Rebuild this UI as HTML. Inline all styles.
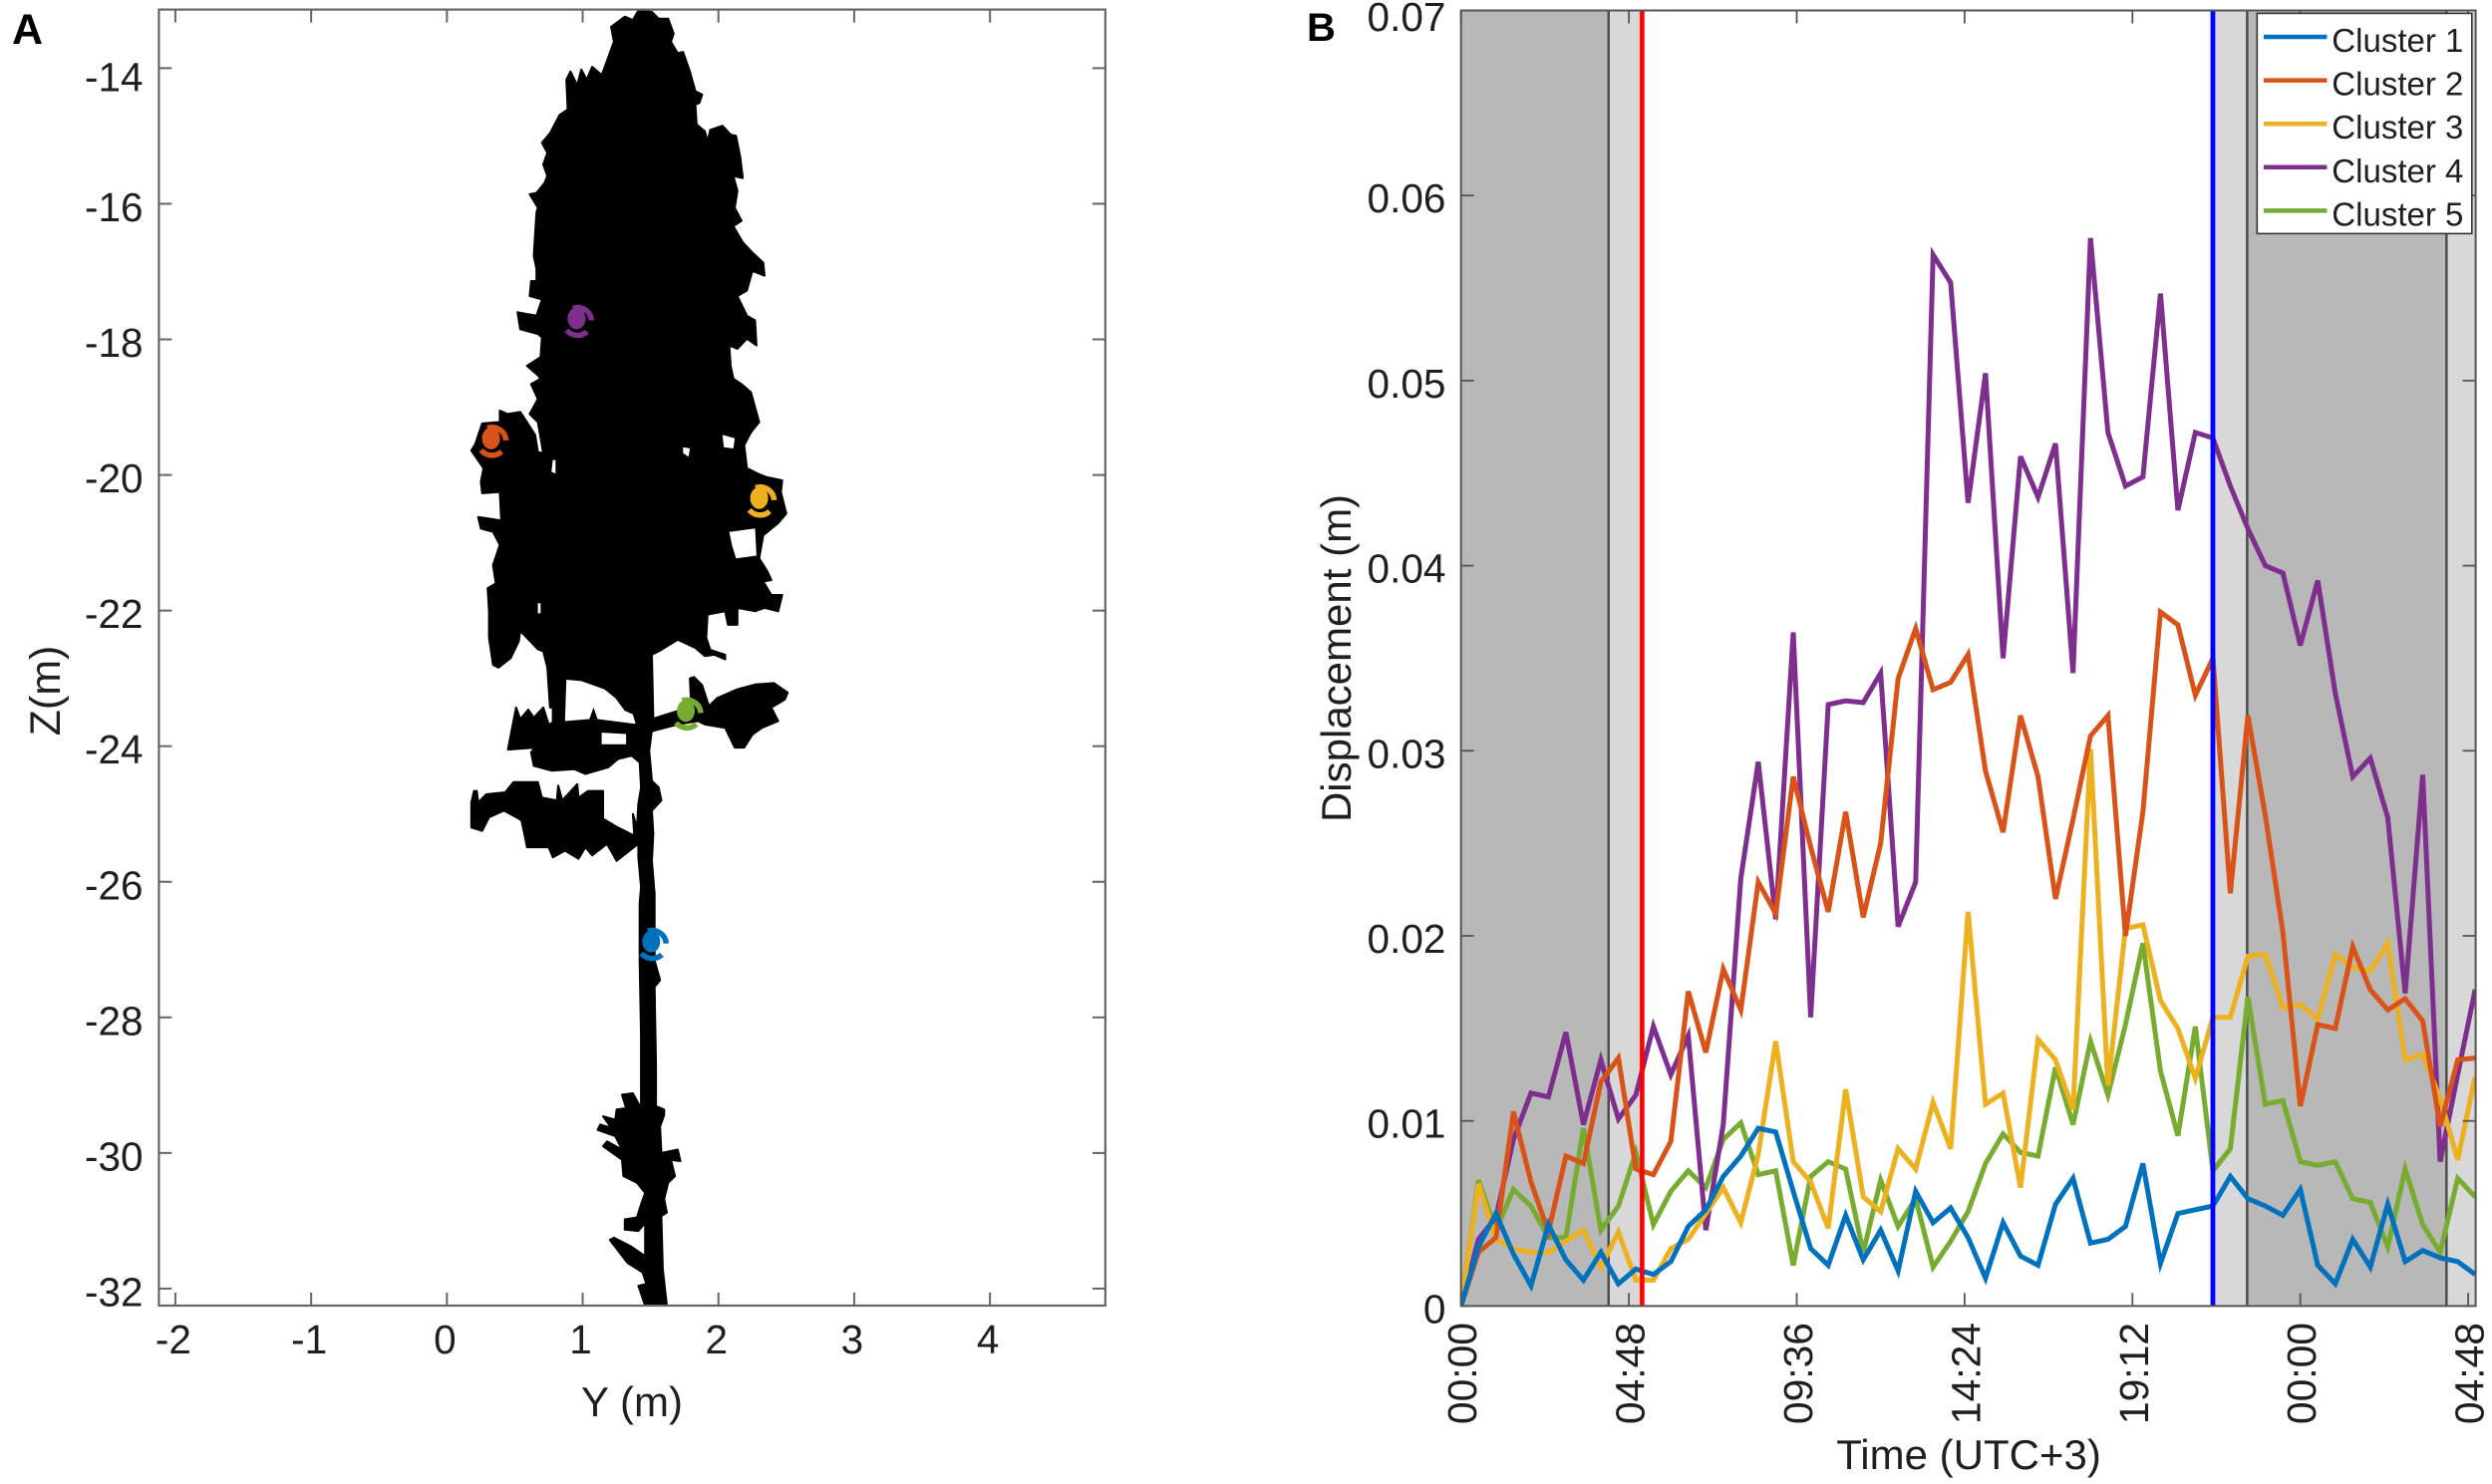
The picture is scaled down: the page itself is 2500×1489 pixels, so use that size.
<!DOCTYPE html>
<html>
<head>
<meta charset="utf-8">
<title>Tree point cloud and cluster displacement</title>
<style>
html,body{margin:0;padding:0;background:#fff;}
svg{display:block;}
text{font-family:"Liberation Sans",sans-serif;fill:#1f1f1f;}
</style>
</head>
<body>
<svg id="figure" xmlns="http://www.w3.org/2000/svg" width="2500" height="1489" viewBox="0 0 2500 1489">
  <defs>
    <clipPath id="clip-a"><rect x="159.4" y="9.6" width="949.5" height="1300.4"/></clipPath>
    <clipPath id="clip-b"><rect x="1465.7" y="10.5" width="1017.9" height="1299.9"/></clipPath>
  </defs>
  <text x="12" y="44" font-size="43" font-weight="bold" style="fill:#000">A</text>
  <text x="1311" y="41" font-size="40" font-weight="bold" style="fill:#000">B</text>
  <g id="panel-a"></g>
  <g id="panel-b"></g>
  <text x="634" y="1421" font-size="42" text-anchor="middle">Y (m)</text>
  <text transform="translate(60,693) rotate(-90)" font-size="43" text-anchor="middle">Z(m)</text>
  <text x="1975" y="1474" font-size="42" text-anchor="middle">Time (UTC+3)</text>
  <text transform="translate(1355,660.5) rotate(-90)" font-size="42" text-anchor="middle">Displacement (m)</text>
</svg>
<script>
/* ---------- Panel B data ---------- */
const timeHours = [0,0.5,1,1.5,2,2.5,3,3.5,4,4.5,5,5.5,6,6.5,7,7.5,8,8.5,9,9.5,10,10.5,11,11.5,12,12.5,13,13.5,14,14.5,15,15.5,16,16.5,17,17.5,18,18.5,19,19.5,20,20.5,21,21.5,22,22.5,23,23.5,24,24.5,25,25.5,26,26.5,27,27.5,28,28.5,29];
const cluster1 = [0,.0032,.0050,.0028,.0011,.0044,.0025,.0014,.0029,.0012,.0020,.0017,.0024,.0043,.0052,.0070,.0081,.0096,.0094,.0062,.0031,.0022,.0049,.0025,.0041,.0019,.0062,.0045,.0053,.0037,.0015,.0045,.0027,.0022,.0055,.0069,.0034,.0036,.0043,.0077,.0023,.0050,.0052,.0054,.0070,.0058,.0054,.0049,.0063,.0022,.0012,.0036,.0021,.0055,.0024,.0030,.0026,.0024,.0017];
const cluster2 = [0,.0029,.0037,.0105,.0067,.0040,.0081,.0077,.0121,.0134,.0074,.0071,.0089,.0170,.0137,.0182,.0160,.0229,.0212,.0286,.0248,.0213,.0267,.0210,.0250,.0339,.0366,.0333,.0337,.0352,.0289,.0256,.0319,.0286,.0220,.0263,.0308,.0319,.0200,.0267,.0375,.0368,.0330,.0350,.0223,.0319,.0265,.0202,.0108,.0152,.0150,.0194,.0171,.0160,.0166,.0154,.0097,.0133,.0134];
const cluster3 = [0,.0066,.0036,.0031,.0029,.0029,.0035,.0041,.0021,.0040,.0014,.0014,.0031,.0036,.0050,.0064,.0045,.0082,.0143,.0078,.0067,.0042,.0117,.0059,.0051,.0085,.0074,.0110,.0085,.0213,.0109,.0115,.0064,.0144,.0133,.0106,.0301,.0119,.0204,.0206,.0165,.0150,.0123,.0156,.0156,.0189,.0190,.0161,.0163,.0155,.0190,.0183,.0181,.0196,.0133,.0136,.0112,.0079,.0124];
const cluster4 = [0,.0036,.0048,.0090,.0115,.0113,.0148,.0098,.0133,.0101,.0114,.0151,.0125,.0146,.0041,.0098,.0231,.0294,.0209,.0364,.0156,.0325,.0327,.0326,.0342,.0205,.0229,.0568,.0553,.0434,.0504,.0350,.0459,.0437,.0466,.0342,.0577,.0472,.0443,.0448,.0547,.0430,.0472,.0469,.0443,.0420,.0400,.0396,.0357,.0392,.0331,.0286,.0296,.0264,.0169,.0287,.0078,.0125,.0171];
const cluster5 = [0,.0068,.0041,.0063,.0054,.0037,.0037,.0096,.0041,.0054,.0083,.0044,.0062,.0073,.0064,.0090,.0099,.0071,.0073,.0022,.0070,.0078,.0074,.0029,.0068,.0043,.0058,.0021,.0035,.0051,.0077,.0093,.0083,.0081,.0129,.0098,.0143,.0114,.0152,.0196,.0127,.0092,.0151,.0073,.0085,.0167,.0109,.0111,.0078,.0076,.0078,.0058,.0056,.0032,.0074,.0044,.0029,.0069,.0059];
const clusterNames = ["Cluster 1","Cluster 2","Cluster 3","Cluster 4","Cluster 5"];
const clusterColors = ["#0072BD","#D95319","#EDB120","#7E2F8E","#77AC30"];
const clusterValues = [cluster1,cluster2,cluster3,cluster4,cluster5];
const dispTicks = [0,0.01,0.02,0.03,0.04,0.05,0.06,0.07];
const dispTickLabels = ["0","0.01","0.02","0.03","0.04","0.05","0.06","0.07"];
const timeTicks = [0,4.8,9.6,14.4,19.2,24,28.8];
const timeTickLabels = ["00:00","04:48","09:36","14:24","19:12","00:00","04:48"];
const darkBandStart = [0,22.48];
const darkBandEnd = [4.22,28.18];
const lightBandStart = [4.22,21.5,28.18];
const lightBandEnd = [5.18,22.48,29.02];
const dayBoundaries = [4.22,22.48,28.18];
const startEventHour = 5.18;
const endEventHour = 21.5;

/* ---------- Panel A data (metres) ---------- */
const yTicksA = [-2,-1,0,1,2,3,4];
const zTicksA = [-14,-16,-18,-20,-22,-24,-26,-28,-30,-32];
const markerY = [1.505,0.325,2.30,0.955,1.76];
const markerZ = [-26.91,-19.49,-20.37,-17.72,-23.51];
const treeOutline = [[1.41,-13.15],[1.51,-13.17],[1.56,-13.27],[1.63,-13.27],[1.67,-13.49],[1.65,-13.61],[1.70,-13.78],[1.74,-13.76],[1.79,-14.05],[1.83,-14.34],[1.88,-14.39],[1.86,-14.51],[1.83,-14.54],[1.84,-14.83],[1.90,-14.93],[1.92,-15.08],[1.94,-14.91],[2.03,-14.85],[2.09,-14.98],[2.13,-15.00],[2.16,-15.30],[2.18,-15.62],[2.11,-15.59],[2.14,-15.81],[2.12,-16.06],[2.17,-16.25],[2.11,-16.33],[2.18,-16.57],[2.25,-16.72],[2.33,-16.87],[2.34,-17.06],[2.25,-16.99],[2.21,-17.28],[2.14,-17.36],[2.21,-17.65],[2.27,-17.72],[2.28,-18.09],[2.21,-17.99],[2.14,-18.14],[2.08,-18.09],[2.09,-18.39],[2.11,-18.58],[2.17,-18.66],[2.24,-18.78],[2.30,-19.22],[2.24,-19.37],[2.19,-19.56],[2.21,-19.90],[2.29,-19.98],[2.35,-20.03],[2.47,-20.08],[2.46,-20.25],[2.50,-20.57],[2.44,-20.71],[2.33,-20.89],[2.30,-21.23],[2.36,-21.42],[2.39,-21.55],[2.33,-21.57],[2.39,-21.77],[2.47,-21.77],[2.44,-22.01],[2.34,-21.96],[2.27,-22.01],[2.14,-21.96],[2.14,-22.21],[2.07,-22.21],[2.05,-22.01],[1.92,-22.06],[1.91,-22.40],[1.94,-22.58],[2.05,-22.65],[2.05,-22.72],[1.97,-22.65],[1.90,-22.67],[1.83,-22.55],[1.70,-22.43],[1.56,-22.60],[1.51,-22.65],[1.52,-23.60],[1.49,-24.07],[1.51,-24.51],[1.56,-24.61],[1.58,-24.80],[1.51,-24.95],[1.52,-25.29],[1.51,-25.69],[1.53,-26.18],[1.53,-27.16],[1.57,-27.45],[1.53,-27.55],[1.54,-28.72],[1.54,-29.31],[1.60,-29.36],[1.60,-29.44],[1.57,-29.61],[1.58,-30.00],[1.70,-29.95],[1.72,-30.12],[1.65,-30.10],[1.68,-30.34],[1.63,-30.44],[1.60,-30.68],[1.62,-30.88],[1.58,-30.93],[1.59,-31.71],[1.62,-32.25],[1.60,-32.40],[1.46,-32.40],[1.46,-32.25],[1.41,-31.96],[1.47,-31.93],[1.44,-31.76],[1.33,-31.62],[1.20,-31.28],[1.23,-31.25],[1.35,-31.37],[1.46,-31.52],[1.46,-31.03],[1.41,-31.15],[1.31,-31.13],[1.31,-30.98],[1.40,-30.95],[1.43,-30.76],[1.46,-30.59],[1.40,-30.44],[1.30,-30.34],[1.29,-30.10],[1.15,-29.90],[1.18,-29.83],[1.29,-29.95],[1.24,-29.75],[1.11,-29.66],[1.13,-29.58],[1.21,-29.63],[1.15,-29.46],[1.24,-29.51],[1.25,-29.36],[1.32,-29.34],[1.29,-29.14],[1.37,-29.12],[1.43,-29.34],[1.43,-28.28],[1.42,-27.16],[1.42,-26.32],[1.43,-26.08],[1.41,-25.64],[1.41,-25.44],[1.25,-25.69],[1.18,-25.44],[1.07,-25.61],[1.02,-25.49],[0.97,-25.66],[0.87,-25.54],[0.78,-25.64],[0.75,-25.49],[0.59,-25.49],[0.57,-25.29],[0.55,-25.10],[0.53,-25.07],[0.42,-24.95],[0.31,-25.05],[0.26,-25.25],[0.18,-25.20],[0.18,-24.83],[0.20,-24.66],[0.22,-24.66],[0.23,-24.83],[0.29,-24.71],[0.43,-24.68],[0.49,-24.53],[0.67,-24.53],[0.70,-24.76],[0.81,-24.80],[0.82,-24.58],[0.85,-24.80],[0.96,-24.56],[0.97,-24.76],[1.04,-24.66],[1.15,-24.66],[1.15,-25.07],[1.26,-25.20],[1.38,-25.32],[1.37,-25.00],[1.40,-25.20],[1.41,-24.85],[1.43,-24.61],[1.42,-24.24],[1.36,-24.14],[1.26,-24.19],[1.19,-24.31],[1.02,-24.41],[0.94,-24.34],[0.77,-24.36],[0.64,-24.29],[0.62,-24.09],[0.65,-24.02],[0.45,-24.05],[0.49,-23.63],[0.51,-23.43],[0.54,-23.60],[0.60,-23.46],[0.64,-23.58],[0.71,-23.43],[0.75,-23.68],[0.78,-23.65],[0.78,-23.43],[0.76,-23.43],[0.74,-22.84],[0.71,-22.60],[0.67,-22.57],[0.54,-22.30],[0.53,-22.45],[0.47,-22.70],[0.38,-22.84],[0.34,-22.80],[0.31,-22.40],[0.31,-22.01],[0.30,-21.67],[0.36,-21.60],[0.34,-21.33],[0.39,-21.03],[0.34,-20.84],[0.25,-20.79],[0.23,-20.62],[0.40,-20.67],[0.39,-20.25],[0.26,-20.27],[0.25,-20.10],[0.27,-19.90],[0.18,-19.64],[0.21,-19.54],[0.26,-19.24],[0.39,-19.22],[0.39,-19.05],[0.45,-19.10],[0.54,-19.07],[0.58,-19.19],[0.65,-19.41],[0.67,-19.66],[0.71,-19.68],[0.67,-19.22],[0.61,-19.10],[0.67,-18.88],[0.62,-18.66],[0.69,-18.58],[0.67,-18.53],[0.59,-18.39],[0.69,-18.26],[0.70,-17.97],[0.67,-17.92],[0.54,-17.85],[0.52,-17.60],[0.66,-17.65],[0.70,-17.41],[0.61,-17.36],[0.62,-17.14],[0.66,-17.14],[0.66,-16.96],[0.64,-16.77],[0.65,-16.43],[0.66,-16.13],[0.67,-16.06],[0.61,-15.86],[0.66,-15.84],[0.72,-15.69],[0.74,-15.59],[0.71,-15.42],[0.74,-15.25],[0.70,-15.10],[0.76,-14.96],[0.83,-14.69],[0.89,-14.61],[0.88,-14.17],[0.91,-14.05],[0.96,-14.25],[0.99,-14.02],[1.03,-14.17],[1.07,-13.98],[1.14,-14.10],[1.16,-14.00],[1.23,-13.61],[1.21,-13.39],[1.31,-13.24],[1.37,-13.29]];
const rightBranch = [[1.51,-23.60],[1.70,-23.48],[1.80,-23.43],[1.79,-23.00],[1.82,-22.98],[1.88,-23.10],[1.93,-23.41],[1.99,-23.29],[2.14,-23.16],[2.27,-23.09],[2.41,-23.07],[2.51,-23.21],[2.49,-23.31],[2.39,-23.43],[2.44,-23.63],[2.32,-23.73],[2.25,-23.83],[2.19,-24.02],[2.12,-24.02],[2.05,-23.73],[1.90,-23.68],[1.85,-23.63],[1.70,-23.68],[1.51,-23.78]];
const canopyGapA = [[0.87,-23.63],[0.88,-23.02],[0.99,-23.04],[1.16,-23.16],[1.24,-23.29],[1.31,-23.48],[1.37,-23.53],[1.39,-23.67],[1.11,-23.60],[1.08,-23.43],[1.05,-23.60]];
const canopyGapB = [[1.14,-23.80],[1.32,-23.82],[1.32,-23.97],[1.14,-23.97]];
const canopyGapC = [[2.08,-20.84],[2.27,-20.79],[2.28,-21.19],[2.13,-21.23],[2.10,-21.03]];
const canopyGapD = [[2.03,-19.41],[2.12,-19.46],[2.11,-19.61],[2.04,-19.59]];
const canopyGapE = [[1.74,-19.59],[1.79,-19.61],[1.78,-19.73],[1.74,-19.68]];
const canopyGapF = [[0.78,-19.78],[0.80,-19.78],[0.80,-19.98],[0.77,-19.95]];
const canopyGapG = [[0.67,-21.89],[0.69,-21.89],[0.69,-22.04],[0.67,-22.04]];

/* ---------- Scales ---------- */
const SVGNS = "http://www.w3.org/2000/svg";
const A = {l:159.4,r:1108.9,t:9.6,b:1310};
const B = {l:1465.7,r:2483.6,t:10.5,b:1310.4};
function xA(y){return 448.33+136.2*y;}
function yA(z){return 68.4+(-14-z)*68.03;}
function xB(h){return B.l+h*35.083;}
function yB(v){return B.b-v*18570;}
function mk(tag,parent){const e=document.createElementNS(SVGNS,tag);parent.appendChild(e);return e;}
function polyPath(pts){return "M"+pts.map(function(p){return xA(p[0]).toFixed(1)+" "+yA(p[1]).toFixed(1);}).join("L")+"Z";}
function rule(parent,x1,y1,x2,y2,color,w){
  const l=mk("line",parent);
  l.setAttribute("x1",x1);l.setAttribute("y1",y1);l.setAttribute("x2",x2);l.setAttribute("y2",y2);
  l.setAttribute("stroke",color);l.setAttribute("stroke-width",w);
  return l;
}

/* ---------- Panel A ---------- */
const pa = document.getElementById("panel-a");
const treeGroup = mk("g",pa);
treeGroup.setAttribute("clip-path","url(#clip-a)");


const treeBody = mk("path",treeGroup);
treeBody.setAttribute("d",polyPath(treeOutline)+polyPath(rightBranch));
treeBody.setAttribute("fill","#000");
treeBody.setAttribute("fill-rule","nonzero");
treeBody.setAttribute("stroke","#000");
treeBody.setAttribute("stroke-width","2");
treeBody.setAttribute("stroke-linejoin","round");


const treeGaps = mk("path",treeGroup);
treeGaps.setAttribute("d",[canopyGapA,canopyGapB,canopyGapC,canopyGapD,canopyGapE,canopyGapF,canopyGapG].map(polyPath).join(""));
treeGaps.setAttribute("fill","#fff");



function arcD(cx,cy,r,a0,a1){
  const p0=[cx+r*Math.cos(a0*Math.PI/180),cy+r*Math.sin(a0*Math.PI/180)];
  const p1=[cx+r*Math.cos(a1*Math.PI/180),cy+r*Math.sin(a1*Math.PI/180)];
  return "M"+p0[0].toFixed(1)+" "+p0[1].toFixed(1)+"A"+r+" "+r+" 0 0 1 "+p1[0].toFixed(1)+" "+p1[1].toFixed(1);
}
markerY.forEach(function(my,i){
  const cx=xA(my), cy=yA(markerZ[i]);
  const g=mk("g",pa);
  
  
  const c=mk("ellipse",g);
  c.setAttribute("cx",cx);c.setAttribute("cy",cy-2);c.setAttribute("rx",9);c.setAttribute("ry",11);
  c.setAttribute("fill",clusterColors[i]);
  const arcs=mk("path",g);
  arcs.setAttribute("d",arcD(cx+1,cy+1,14,-109,-4)+arcD(cx+1,cy+1,14,47,141));
  arcs.setAttribute("fill","none");
  arcs.setAttribute("stroke",clusterColors[i]);
  arcs.setAttribute("stroke-width",5.5);
});

const axA = mk("g",pa);


const boxA = mk("rect",axA);
boxA.setAttribute("x",A.l);boxA.setAttribute("y",A.t);boxA.setAttribute("width",A.r-A.l);boxA.setAttribute("height",A.b-A.t);
boxA.setAttribute("fill","none");boxA.setAttribute("stroke","#666");boxA.setAttribute("stroke-width",2.2);


yTicksA.forEach(function(v){
  const x=xA(v);
  rule(axA,x,A.b,x,A.b-13,"#666",2);
  rule(axA,x,A.t,x,A.t+13,"#666",2);
  const t=mk("text",axA);
  t.setAttribute("x",x-2);t.setAttribute("y",1358);t.setAttribute("font-size",40.5);t.setAttribute("text-anchor","middle");
  
  
  t.textContent=String(v);
});
zTicksA.forEach(function(v,i){
  const y=yA(v);
  rule(axA,A.l,y,A.l+13,y,"#666",2);
  rule(axA,A.r,y,A.r-13,y,"#666",2);
  const t=mk("text",axA);
  t.setAttribute("x",143.5);t.setAttribute("y",y+(i===0?23:17.5));t.setAttribute("font-size",40.5);t.setAttribute("text-anchor","end");
  
  
  t.textContent=String(v);
});

/* ---------- Panel B ---------- */
const pb = document.getElementById("panel-b");
const plot = mk("g",pb);
plot.setAttribute("clip-path","url(#clip-b)");


function band(h0,h1,color,name){
  const r=mk("rect",plot);
  r.setAttribute("x",xB(h0));r.setAttribute("y",B.t);r.setAttribute("width",xB(h1)-xB(h0));r.setAttribute("height",B.b-B.t);
  r.setAttribute("fill",color);
  
  
}
darkBandStart.forEach(function(h,i){band(h,darkBandEnd[i],"#b8b8b8","night-band");});
lightBandStart.forEach(function(h,i){band(h,lightBandEnd[i],"#d8d8d8","twilight-band");});
dayBoundaries.forEach(function(h){
  const l=rule(plot,xB(h),B.t,xB(h),B.b,"#4d4d4d",2.5);
  
  
});
for(let s=clusterValues.length-1;s>=0;s--){
  const vals=clusterValues[s];
  const p=mk("polyline",plot);
  p.setAttribute("points",vals.map(function(v,i){return xB(timeHours[i]).toFixed(1)+","+yB(v).toFixed(1);}).join(" "));
  p.setAttribute("fill","none");
  p.setAttribute("stroke",clusterColors[s]);
  p.setAttribute("stroke-width",5);
  p.setAttribute("stroke-linejoin","miter");
  
  
}
const startLine = rule(plot,xB(startEventHour),B.t,xB(startEventHour),B.b,"#ff0000",4.6);


const endLine = rule(plot,xB(endEventHour),B.t,xB(endEventHour),B.b,"#0000ff",4.8);



const axB = mk("g",pb);


const boxB = mk("rect",axB);
boxB.setAttribute("x",B.l);boxB.setAttribute("y",B.t);boxB.setAttribute("width",B.r-B.l);boxB.setAttribute("height",B.b-B.t);
boxB.setAttribute("fill","none");boxB.setAttribute("stroke","#555");boxB.setAttribute("stroke-width",2);


dispTicks.forEach(function(v,i){
  const y=yB(v);
  rule(axB,B.l,y,B.l+13,y,"#555",1.8);
  rule(axB,B.r,y,B.r-13,y,"#555",1.8);
  const t=mk("text",axB);
  t.setAttribute("x",1450.5);t.setAttribute("y",i===dispTicks.length-1?31:y+17);t.setAttribute("font-size",40.6);t.setAttribute("text-anchor","end");
  
  
  t.textContent=dispTickLabels[i];
});
timeTicks.forEach(function(h,i){
  const x=xB(h);
  rule(axB,x,B.b,x,B.b-13,"#555",1.8);
  rule(axB,x,B.t,x,B.t+13,"#555",1.8);
  const t=mk("text",axB);
  t.setAttribute("transform","translate("+(x+15.5)+",1327) rotate(-90)");
  t.setAttribute("font-size",40.8);t.setAttribute("text-anchor","end");
  
  
  t.textContent=timeTickLabels[i];
});

/* ---------- Legend ---------- */
const legend = mk("g",pb);


const legBox = mk("rect",legend);
legBox.setAttribute("x",2264.3);legBox.setAttribute("y",13.4);legBox.setAttribute("width",215.5);legBox.setAttribute("height",221);
legBox.setAttribute("fill","#fff");legBox.setAttribute("stroke","#333");legBox.setAttribute("stroke-width",1.6);


clusterNames.forEach(function(name,i){
  const ly=37+i*43.6;
  const entry=mk("g",legend);
  
  
  rule(entry,2271,ly,2334.4,ly,clusterColors[i],4.5);
  const t=mk("text",entry);
  t.setAttribute("x",2339.3);t.setAttribute("y",ly+15);t.setAttribute("font-size",33);
  t.textContent=name;
});
</script>
</body>
</html>
